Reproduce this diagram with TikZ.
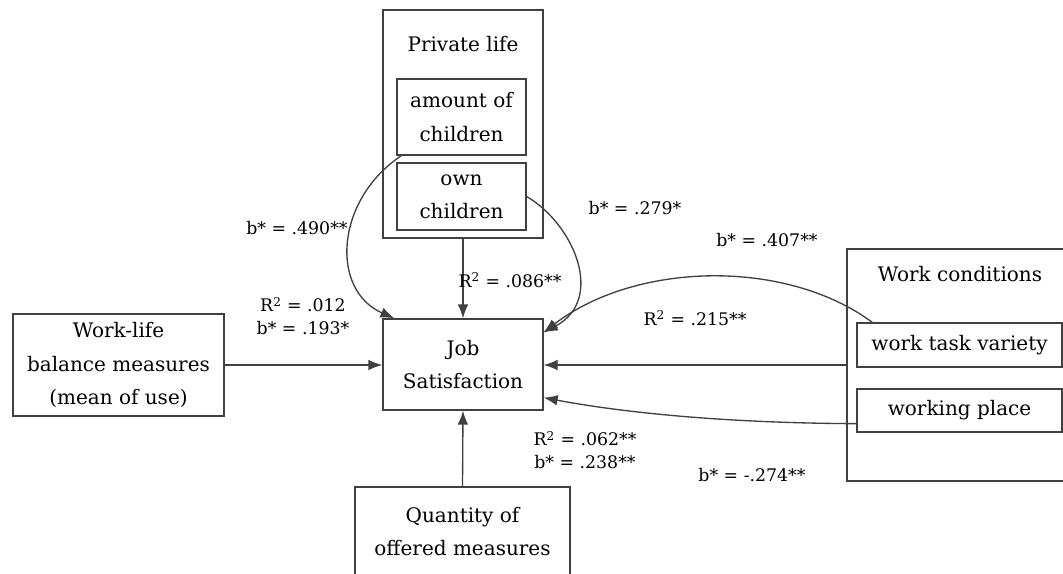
\documentclass[tikz,border=0pt]{standalone}
\usepackage{fontspec}
\setmainfont{DejaVu Serif}
\usetikzlibrary{arrows.meta,calc}
\begin{document}
\begin{tikzpicture}[x=0.75pt,y=-0.75pt,
  box/.style={draw=black!75,line width=1pt,rectangle,inner sep=0pt,align=center,font=\fontsize{15}{25}\selectfont},
  ttl/.style={inner sep=0pt,font=\fontsize{15}{25}\selectfont},
  lbl/.style={inner sep=0pt,align=center,font=\fontsize{13}{17}\selectfont},
  arr/.style={draw=black!75,line width=1pt,-{Latex[length=10.5pt,width=8pt]}}]
\useasboundingbox (0,0) rectangle (1063,574);
\clip (0,0) rectangle (1063,574);
% boxes
\node[box,minimum width=120pt,minimum height=171pt] (priv) at (463,124) {};
\node[ttl] (privt) at (463,44) {Private life};
\node[box,minimum width=96.75pt,minimum height=57pt] (amount) at (461.5,117) {amount of\\children};
\node[box,minimum width=96.75pt,minimum height=50.25pt] (own) at (461.5,196.5) {own\\children};
\node[box,minimum width=120pt,minimum height=68.25pt] (job) at (463,364.5) {Job\\Satisfaction};
\node[box,minimum width=158.25pt,minimum height=76.5pt] (wlb) at (118.5,365) {Work-life\\balance measures\\(mean of use)};
\node[box,minimum width=161.25pt,minimum height=99pt] (qty) at (462.5,553) {Quantity of\\offered measures\\\strut};
\node[box,minimum width=171pt,minimum height=174pt] (wc) at (961,365) {};
\node[ttl] (wct) at (960,274) {Work conditions};
\node[box,minimum width=153.75pt,minimum height=33pt] (wtv) at (959.5,345) {work task variety};
\node[box,minimum width=153.75pt,minimum height=32.25pt] (wp) at (959.5,410.5) {working place};
% connectors
\draw[arr] (wlb.east) -- (wlb.east -| job.west);
\draw[arr] (qty.north) -- (job.south);
\draw[arr] (priv.south) -- (job.north);
\draw[arr] ($(amount.south west)+(5,0)$) .. controls (335,200) and (330,290) .. ($(job.north west)+(12,0)$);
\draw[arr] (own.east) .. controls (575,225) and (605,300) .. ($(job.north east)+(0,14)$);
\draw[arr] ($(wtv.north west)+(16,0)$) .. controls (785,258) and (635,262) .. ($(job.north east)+(0,14)$);
\draw[arr] (wc.west) -- (wc.west -| job.east);
\draw[arr] ($(wp.south west)+(0,-9)$) .. controls (720,423) and (620,412) .. ($(job.south east)+(0,-13)$);
% labels
\node[lbl] (l490) at (297,228) {b* = .490**};
\node[lbl] (l012) at (303,316) {R\textsuperscript{2} = .012\\b* = .193*};
\node[lbl] (l086) at (510,280) {R\textsuperscript{2} = .086**};
\node[lbl] (l279) at (635,208) {b* = .279*};
\node[lbl] (l407) at (767,240) {b* = .407**};
\node[lbl] (l215) at (695,318) {R\textsuperscript{2} = .215**};
\node[lbl] (l062) at (585,450) {R\textsuperscript{2} = .062**\\b* = .238**};
\node[lbl] (l274) at (752,475) {b* = -.274**};
\end{tikzpicture}
\end{document}
